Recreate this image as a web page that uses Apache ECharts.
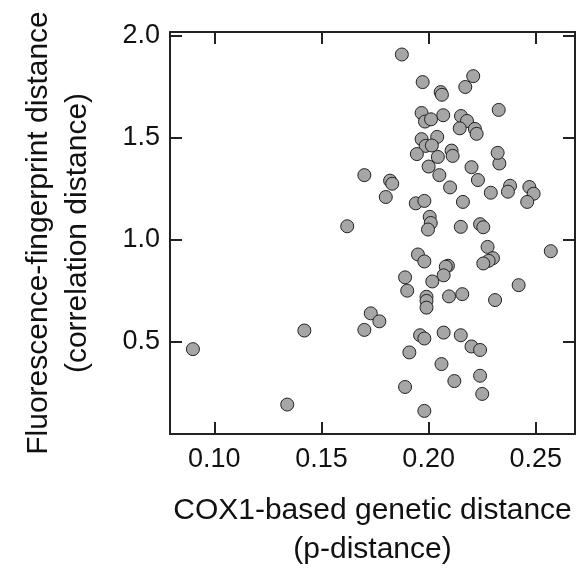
<!DOCTYPE html>
<html>
<head>
<meta charset="utf-8">
<script src="https://cdn.jsdelivr.net/npm/echarts@6/dist/echarts.min.js"></script>
<style>
html,body{margin:0;padding:0;background:#fff;}
#chart{width:576px;height:574px;}
</style>
</head>
<body>
<div id="chart"></div>
<script>
// COX1-based genetic distance (p-distance)
const xValues = [
  0.090,0.134,0.142,0.170,0.173,0.177,0.196,0.198,0.207,0.215,
  0.220,0.224,0.191,0.206,0.224,0.212,0.189,0.225,0.198,0.170,
  0.182,0.183,0.180,0.194,0.198,0.200,0.205,0.210,0.220,0.223,
  0.229,0.233,0.238,0.237,0.247,0.249,0.246,0.216,0.162,0.2005,
  0.201,0.1997,0.215,0.224,0.2255,0.2275,0.257,0.195,0.198,0.230,
  0.228,0.2255,0.209,0.208,0.207,0.189,0.2017,0.190,0.242,0.2095,
  0.2157,0.231,0.199,0.199,0.199,0.1875,0.2208,0.1972,0.2171,0.2056,
  0.2062,0.2327,0.1967,0.2068,0.2151,0.1983,0.2011,0.2179,0.2145,0.2216,
  0.2224,0.1967,0.204,0.1986,0.2015,0.1945,0.2043,0.2107,0.2112,0.2322
];
// Fluorescence-fingerprint distance (correlation distance)
const yValues = [
  0.465,0.194,0.556,0.559,0.640,0.601,0.533,0.517,0.546,0.533,
  0.478,0.461,0.449,0.392,0.335,0.309,0.280,0.246,0.163,1.316,
  1.289,1.274,1.209,1.178,1.190,1.358,1.316,1.256,1.355,1.292,
  1.230,1.373,1.264,1.235,1.258,1.225,1.185,1.185,1.066,1.112,
  1.082,1.050,1.063,1.076,1.061,0.965,0.944,0.928,0.894,0.910,
  0.897,0.884,0.873,0.868,0.826,0.816,0.796,0.751,0.778,0.723,
  0.734,0.705,0.721,0.701,0.668,1.906,1.800,1.771,1.747,1.722,
  1.709,1.635,1.620,1.609,1.605,1.578,1.589,1.581,1.545,1.542,
  1.518,1.492,1.503,1.459,1.461,1.419,1.405,1.436,1.410,1.425
];
const xTicks = [0.10, 0.15, 0.20, 0.25];
const yTicks = [0.5, 1.0, 1.5, 2.0];
const xTitle = 'COX1-based genetic distance\n(p-distance)';
const yTitle = 'Fluorescence-fingerprint distance\n(correlation distance)';

const points = xValues.map((x, i) => [x, yValues[i]]);
const FONT = '"Liberation Sans", Arial, sans-serif';
const AX = '#222';

const chart = echarts.init(document.getElementById('chart'), null, {renderer: 'canvas'});
const baseAxis = {
  type: 'value',
  axisLine: {show: true, onZero: false, lineStyle: {color: AX, width: 2}},
  splitLine: {show: false},
};
chart.setOption({
  animation: false,
  backgroundColor: '#fff',
  grid: {left: 170, right: 1, top: 32, bottom: 139, containLabel: false},
  xAxis: [
    Object.assign({}, baseAxis, {
      position: 'bottom', min: 0.0793, max: 0.2683,
      axisTick: {show: true, inside: true, length: 12, lineStyle: {color: AX, width: 2}, customValues: xTicks},
      axisLabel: {show: true, customValues: xTicks, formatter: v => Number(v).toFixed(2),
        fontFamily: FONT, fontSize: 27, color: '#111', margin: 12},
      name: xTitle, nameLocation: 'middle', nameGap: 57,
      nameTextStyle: {fontFamily: FONT, fontSize: 30, color: '#111', lineHeight: 39}
    }),
    Object.assign({}, baseAxis, {
      position: 'top', min: 0.0793, max: 0.2683,
      axisTick: {show: true, inside: true, length: 12, lineStyle: {color: AX, width: 2}, customValues: xTicks},
      axisLabel: {show: false}
    })
  ],
  yAxis: [
    Object.assign({}, baseAxis, {
      position: 'left', min: 0.05, max: 2.016,
      axisTick: {show: true, inside: true, length: 12, lineStyle: {color: AX, width: 2}, customValues: yTicks},
      axisLabel: {show: true, customValues: yTicks, formatter: v => Number(v).toFixed(1),
        fontFamily: FONT, fontSize: 27, color: '#111', margin: 10},
      name: yTitle, nameLocation: 'middle', nameGap: 73,
      nameTextStyle: {fontFamily: FONT, fontSize: 30, color: '#111', lineHeight: 39}
    }),
    Object.assign({}, baseAxis, {
      position: 'right', min: 0.05, max: 2.016,
      axisTick: {show: true, inside: true, length: 12, lineStyle: {color: AX, width: 2}, customValues: yTicks},
      axisLabel: {show: false}
    })
  ],
  series: [{
    type: 'scatter',
    xAxisIndex: 0, yAxisIndex: 0,
    data: points,
    symbol: 'circle',
    symbolSize: 13,
    itemStyle: {color: '#a6a6a6', borderColor: '#222', borderWidth: 1, opacity: 1},
    emphasis: {disabled: true}
  }]
});
</script>
</body>
</html>
